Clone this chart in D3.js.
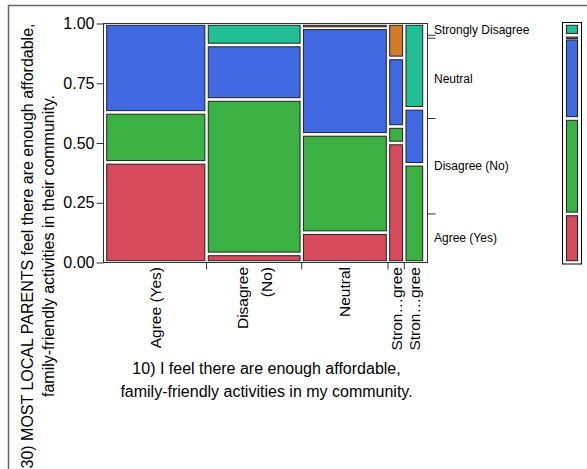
<!DOCTYPE html>
<html><head><meta charset="utf-8">
<script src="https://cdn.jsdelivr.net/npm/d3@7"></script>
<style>
body{margin:0;background:#fff}
svg{display:block}
text{font-family:"Liberation Sans",Arial,sans-serif;fill:#000}
</style>
</head><body><svg id="c" width="587" height="469"></svg>
<script>
// ---- data ----
const xCategories = ["Agree (Yes)","Disagree (No)","Neutral","Strongly Agree","Strongly Disagree"];
const xTickLabels = [["Agree (Yes)"],["Disagree","(No)"],["Neutral"],["Stron…gree"],["Stron…gree"]];
const columnShare = [31.8, 29.8, 27.0, 5.1, 6.3];
const yCategories = ["Agree (Yes)","Disagree (No)","Neutral","Strongly Agree","Strongly Disagree"];
const agreeYes         = [0.419, 0.036, 0.125, 0.500, 0.000];
const disagreeNo       = [0.209, 0.646, 0.411, 0.069, 0.411];
const neutral          = [0.372, 0.228, 0.446, 0.287, 0.234];
const stronglyAgree    = [0.000, 0.000, 0.018, 0.144, 0.000];
const stronglyDisagree = [0.000, 0.090, 0.000, 0.000, 0.355];
const yTicks = [0, 0.25, 0.5, 0.75, 1];
const colors = ["#d64a5b","#3bb143","#4169e1","#d27c2a","#22bf94"];
const xTitle = ["10) I feel there are enough affordable,","family-friendly activities in my community."];
const yTitle = ["30) MOST LOCAL PARENTS feel there are enough affordable,","family-friendly activities in their community."];

const series = [agreeYes, disagreeNo, neutral, stronglyAgree, stronglyDisagree];

// ---- drawing ----
const svg = d3.select("#c");
const xs = d3.scaleLinear().domain([0,100]).range([105, 424.4]);
const ys = d3.scaleLinear().domain([0,1]).range([262.5, 23.5]);
const tileStroke = "#222";

// outer frame
svg.append("rect").attr("x",8.5).attr("y",5.5).attr("width",700).attr("height",700)
  .attr("fill","none").attr("stroke","#666").attr("stroke-width",1.5);

// plot frame
svg.append("rect").attr("x",103.5).attr("y",23.5).attr("width",324).attr("height",239)
  .attr("fill","#fff").attr("stroke","#333").attr("stroke-width",1);

// columns
const cumX = d3.cumsum(columnShare);
const colStart = columnShare.map((s,i)=> cumX[i]-s);
const tiles = [];
columnShare.forEach((s,i)=>{
  let c = 0;
  series.forEach((arr,j)=>{
    const p = arr[i];
    if (p > 0) { tiles.push({i, j, x0: colStart[i], x1: colStart[i]+s, y0: c, y1: c+p}); }
    c += p;
  });
});
const gx = 1.7, gy = 1.8;
svg.append("g").selectAll("rect").data(tiles).join("rect")
  .attr("x", d=> xs(d.x0)+gx)
  .attr("width", d=> xs(d.x1)-xs(d.x0)-2*gx)
  .attr("y", d=> ys(d.y1)+gy)
  .attr("height", d=> Math.max(ys(d.y0)-ys(d.y1)-2*gy, 1.5))
  .attr("fill", d=> colors[d.j])
  .attr("stroke", tileStroke).attr("stroke-width",1);

// y axis
const yAxis = svg.append("g").attr("transform","translate(103.5,0)")
  .call(d3.axisLeft(ys).tickValues(yTicks).tickFormat(d3.format(".2f")).tickSize(7).tickPadding(2));
yAxis.select(".domain").remove();
yAxis.selectAll("line").attr("stroke","#333");
yAxis.selectAll("text").style("font-size","16px").attr("fill","#000")
  .style("font-family","'Liberation Sans',Arial,sans-serif");

// x axis ticks at column boundaries
svg.append("g").selectAll("line").data(cumX.slice(0,-1)).join("line")
  .attr("x1", d=> xs(d)).attr("x2", d=> xs(d))
  .attr("y1", 262.5).attr("y2", 269.5).attr("stroke","#333");

// x tick labels
xTickLabels.forEach((lines,i)=>{
  const cx = xs(colStart[i] + columnShare[i]/2);
  const n = lines.length;
  lines.forEach((t,k)=>{
    svg.append("text")
      .attr("transform", `translate(${cx + (k-(n-1)/2)*24},267) rotate(-90)`)
      .attr("text-anchor","end").attr("dy","0.35em")
      .style("font-size","15.5px").text(t);
  });
});

// marginal distribution
const marg = series.map(arr => d3.sum(arr, (p,i)=> p*columnShare[i]/100));
const cumM = d3.cumsum(marg);
const margStart = marg.map((m,j)=> cumM[j]-m);

// right axis ticks
svg.append("g").selectAll("line").data(cumM.slice(0,-1)).join("line")
  .attr("x1",427.5).attr("x2",435.5)
  .attr("y1", d=> ys(d)).attr("y2", d=> ys(d)).attr("stroke","#333");

// right axis labels (skip overlapping)
let lastY = -Infinity;
for (let j = yCategories.length-1; j >= 0; j--) {
  const mid = ys(margStart[j] + marg[j]/2);
  if (mid - lastY < 12) continue;
  svg.append("text").attr("x",434).attr("y",mid).attr("dy","0.35em")
    .style("font-size","12px").text(yCategories[j]);
  lastY = mid;
}

// legend marginal bar
svg.append("rect").attr("x",562.5).attr("y",22.5).attr("width",19).attr("height",241.5)
  .attr("fill","#fff").attr("stroke","#000").attr("stroke-width",1);
svg.append("g").selectAll("rect").data(marg).join("rect")
  .attr("x",566.5).attr("width",11)
  .attr("y",(m,j)=> ys(cumM[j])+gy)
  .attr("height",(m,j)=> Math.max(ys(margStart[j])-ys(cumM[j])-2*gy, 1.5))
  .attr("fill",(m,j)=> colors[j]).attr("stroke",tileStroke).attr("stroke-width",1);

// axis titles
xTitle.forEach((t,k)=>{
  svg.append("text").attr("x",266.5).attr("y",374 + k*22.5)
    .attr("text-anchor","middle").style("font-size","16px").text(t);
});
yTitle.forEach((t,k)=>{
  svg.append("text").attr("transform",`translate(${33 + k*20.5},246) rotate(-90)`)
    .attr("text-anchor","middle").style("font-size","16px").text(t);
});
</script>
</body></html>
